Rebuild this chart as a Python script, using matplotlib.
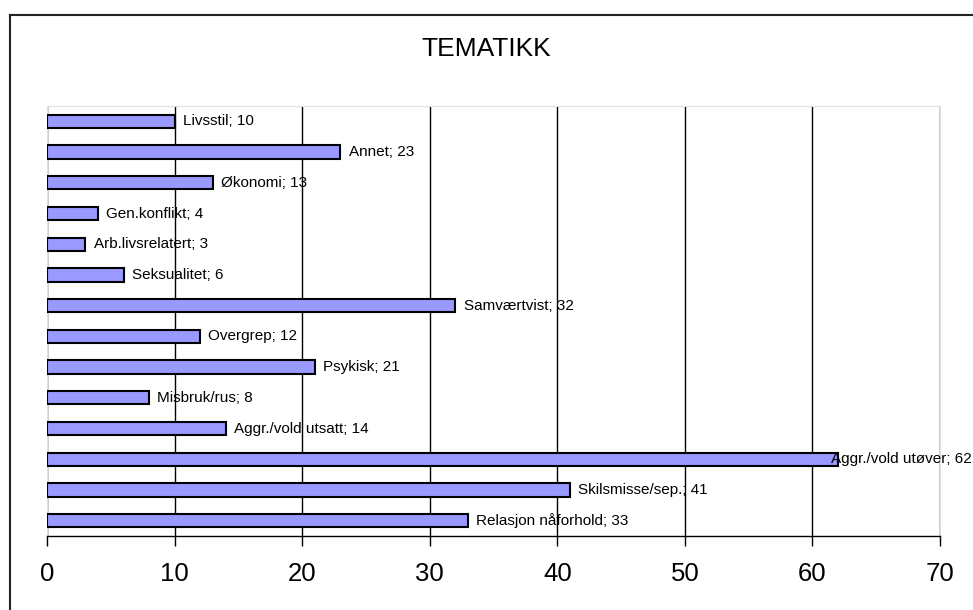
import matplotlib
matplotlib.use("Agg")
import matplotlib.pyplot as plt

categories = ["Livsstil", "Annet", "Økonomi", "Gen.konflikt", "Arb.livsrelatert",
              "Seksualitet", "Samværtvist", "Overgrep", "Psykisk", "Misbruk/rus",
              "Aggr./vold utsatt", "Aggr./vold utøver", "Skilsmisse/sep.", "Relasjon nåforhold"]
values = [10, 23, 13, 4, 3, 6, 32, 12, 21, 8, 14, 62, 41, 33]
xticks = [0, 10, 20, 30, 40, 50, 60, 70]
title = "TEMATIKK"

plt.rcParams['font.family'] = ['Liberation Sans', 'DejaVu Sans']

W, H = 973, 610
fig = plt.figure(figsize=(W / 100, H / 100), dpi=100)
# chart border (only left and top edges fall inside the image)
fig.add_artist(plt.Line2D([9.5 / W, 9.5 / W], [0, 1 - 15 / H], transform=fig.transFigure,
                          color='#222222', linewidth=1.5))
fig.add_artist(plt.Line2D([9.5 / W, 1], [1 - 15 / H, 1 - 15 / H], transform=fig.transFigure,
                          color='#222222', linewidth=1.5))

ax = fig.add_axes([47 / W, 1 - 536 / H, (940 - 47) / W, (536 - 106) / H])
n = len(categories)
ypos = list(range(n))[::-1]
ax.barh(ypos, values, height=0.43, color='#9999FF', edgecolor='black', linewidth=1.5, zorder=3)
ax.set_xlim(0, 70)
ax.set_ylim(-0.5, n - 0.5)
ax.set_xticks(xticks)
ax.set_xticklabels([str(t) for t in xticks], fontsize=18.5)
ax.tick_params(axis='x', direction='out', length=7, width=1, color='black', pad=12)
ax.set_yticks([])
for s in ['left', 'right', 'top']:
    ax.spines[s].set_color('#e0e0e0')
    ax.spines[s].set_linewidth(0.8)
ax.spines['bottom'].set_color('black')
ax.spines['bottom'].set_linewidth(1.0)
ax.xaxis.grid(True, color='black', linewidth=1.0, zorder=0)
ax.set_axisbelow(True)

texts = []
for y, c, v in zip(ypos, categories, values):
    t = ax.annotate(f"{c}; {v}", xy=(v, y), xytext=(6, 0), textcoords='offset points',
                    ha='left', va='center', fontsize=11, zorder=4)
    texts.append(t)

fig.text(0.5, 1 - 56 / H, title, ha='center', va='baseline', fontsize=19)

fig.canvas.draw()
renderer = fig.canvas.get_renderer()
for t in texts:
    bb = t.get_window_extent(renderer)
    if bb.x1 > W - 1:
        shift = bb.x1 - (W - 1)
        t.set_position((6 - shift * 72 / 100, 0))

fig.savefig("out.png", dpi=100)
